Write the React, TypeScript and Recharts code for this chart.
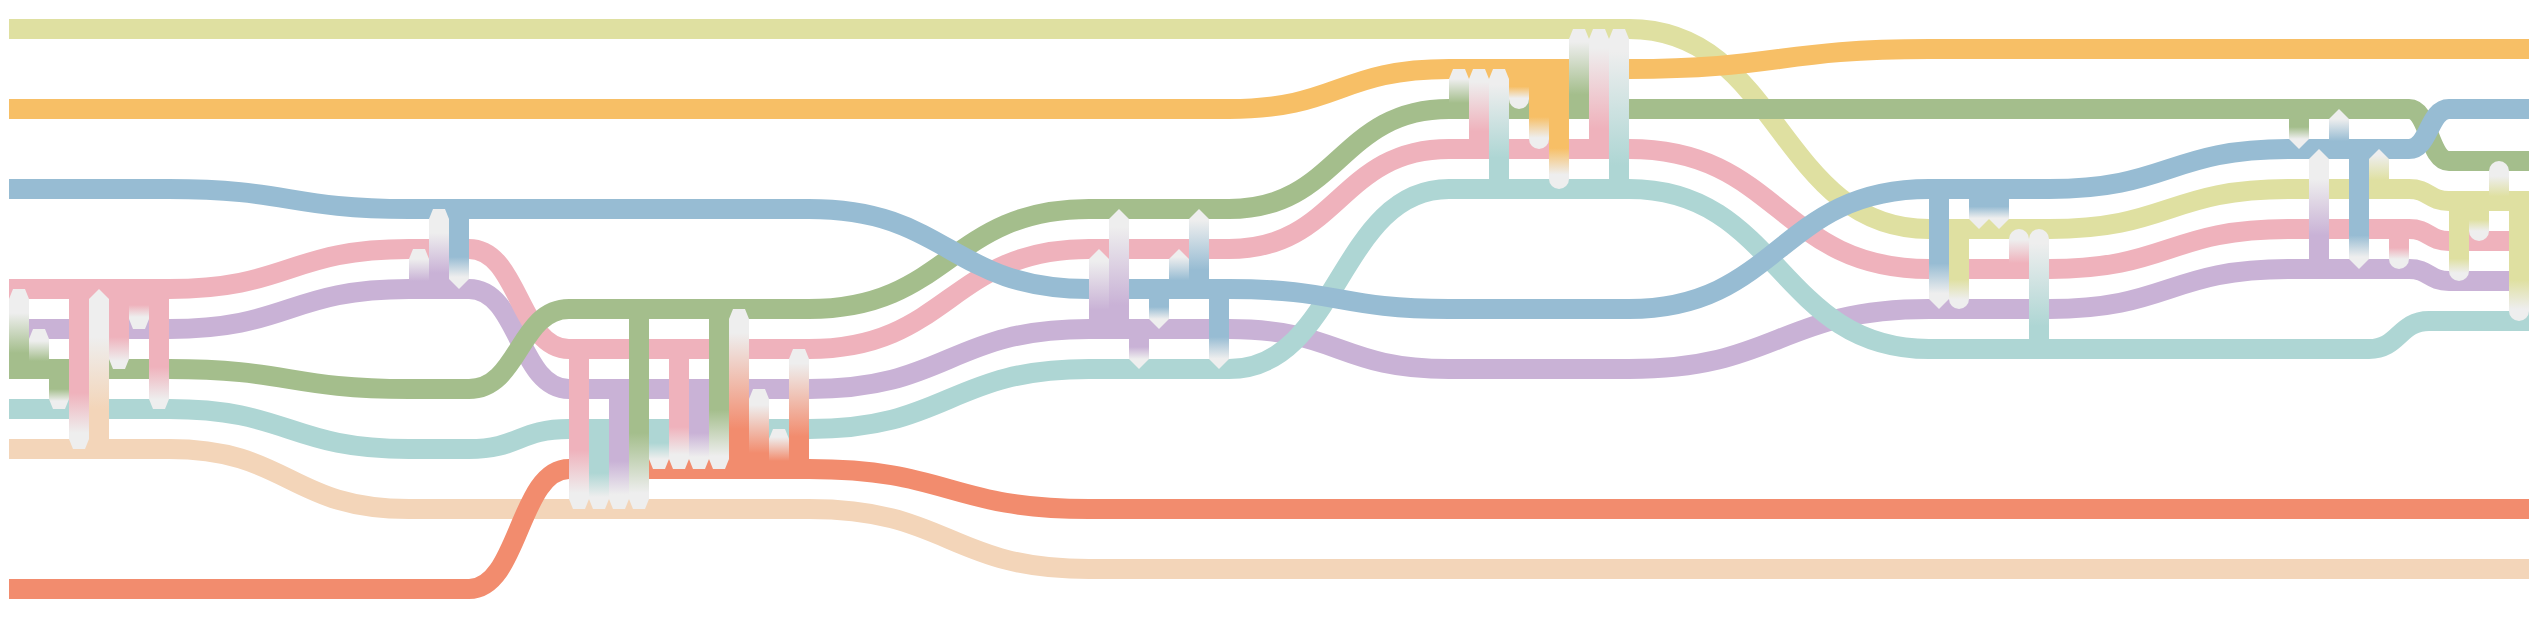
import { LineChart, Line, XAxis, YAxis, ReferenceArea } from 'recharts';

const W = 2532;
const H = 619;

const COLORS = {
  yellow: '#dfe0a1',
  orange: '#f7bf66',
  green: '#a4be8c',
  blue: '#97bcd3',
  pink: '#efb2bc',
  purple: '#c9b2d6',
  teal: '#aed6d4',
  peach: '#f3d5b9',
  red: '#f28c6e',
};
const TIP_GRAY = '#eeeeee';

type SeriesName = keyof typeof COLORS;
type Pt = [number, number]; // [step, track]

// storyline tracks: [step, level]
const yellowPath: Pt[] = [[0, 0], [81, 0], [96, 10], [102, 10], [114, 8], [120, 8], [122, 8.6], [126, 8.6]];
const orangePath: Pt[] = [[0, 4], [61, 4], [72, 2], [81, 2], [96, 1], [126, 1]];
const bluePath: Pt[] = [[0, 8], [8, 8], [20, 9], [40, 9], [54, 13], [61, 13], [72, 14], [81, 14], [96, 8], [102, 8], [114, 6], [120, 6], [122, 4], [126, 4]];
const pinkPath: Pt[] = [[0, 13], [8, 13], [20, 11], [23, 11], [28, 16], [40, 16], [54, 11], [61, 11], [72, 6], [81, 6], [96, 12], [102, 12], [114, 10], [120, 10], [122, 10.6], [126, 10.6]];
const purplePath: Pt[] = [[0, 15], [8, 15], [20, 13], [23, 13], [28, 18], [40, 18], [54, 15], [61, 15], [72, 17], [81, 17], [96, 14], [102, 14], [114, 12], [120, 12], [122, 12.6], [126, 12.6]];
const greenPath: Pt[] = [[0, 17], [8, 17], [20, 18], [23, 18], [28, 14], [40, 14], [54, 9], [61, 9], [72, 4], [120, 4], [122, 6.6], [126, 6.6]];
const tealPath: Pt[] = [[0, 19], [8, 19], [20, 21], [23, 21], [28, 20], [40, 20], [54, 17], [61, 17], [72, 8], [81, 8], [96, 16], [118, 16], [121, 14.6], [126, 14.6]];
const peachPath: Pt[] = [[0, 21], [8, 21], [20, 24], [40, 24], [54, 27], [126, 27]];
const redPath: Pt[] = [[0, 28], [23, 28], [28, 22], [40, 22], [54, 24], [126, 24]];

// draw order, bottom first
const SERIES: { name: SeriesName; path: Pt[] }[] = [
  { name: 'yellow', path: yellowPath },
  { name: 'peach', path: peachPath },
  { name: 'red', path: redPath },
  { name: 'purple', path: purplePath },
  { name: 'pink', path: pinkPath },
  { name: 'green', path: greenPath },
  { name: 'teal', path: tealPath },
  { name: 'blue', path: bluePath },
  { name: 'orange', path: orangePath },
];

type Tip = 'chamfer' | 'v' | 'round';
// [column, source series, source level, target level, tip, colour-until, grey-from]
type Conn = [number, SeriesName, number, number, Tip, number, number];

const cluster1: Conn[] = [
  [0, 'green', 17, 13, 'chamfer', 0.2, 0.7],
  [1, 'green', 17, 15, 'chamfer', 0.2, 0.7],
  [2, 'green', 17, 19, 'chamfer', 0.5, 0.8],
  [3, 'pink', 13, 21, 'chamfer', 0.65, 0.9],
  [4, 'peach', 21, 13, 'v', 0.25, 0.7],
  [5, 'pink', 13, 17, 'chamfer', 0.6, 0.9],
  [6, 'pink', 13, 15, 'chamfer', 0.4, 0.7],
  [7, 'pink', 13, 19, 'chamfer', 0.65, 0.92],
  [20, 'purple', 13, 11, 'chamfer', 0.2, 0.75],
  [21, 'purple', 13, 9, 'chamfer', 0.2, 0.7],
  [22, 'blue', 9, 13, 'v', 0.6, 0.85],
];
const cluster2: Conn[] = [
  [28, 'pink', 16, 24, 'chamfer', 0.63, 0.9],
  [29, 'teal', 20, 24, 'chamfer', 0.55, 0.85],
  [30, 'purple', 18, 24, 'chamfer', 0.6, 0.88],
  [31, 'green', 14, 24, 'chamfer', 0.62, 0.92],
  [32, 'teal', 20, 22, 'chamfer', 0.35, 0.75],
  [33, 'pink', 16, 22, 'chamfer', 0.65, 0.88],
  [34, 'purple', 18, 22, 'chamfer', 0.55, 0.85],
  [35, 'green', 14, 22, 'chamfer', 0.63, 0.92],
  [36, 'red', 22, 14, 'chamfer', 0.25, 0.85],
  [37, 'red', 22, 18, 'chamfer', 0.2, 0.8],
  [38, 'red', 22, 20, 'chamfer', 0.2, 0.8],
  [39, 'red', 22, 16, 'chamfer', 0.27, 0.88],
  [54, 'purple', 15, 11, 'v', 0.24, 0.85],
  [55, 'purple', 15, 9, 'v', 0.2, 0.85],
  [56, 'purple', 15, 17, 'v', 0.45, 0.75],
  [57, 'blue', 13, 15, 'v', 0.45, 0.75],
  [58, 'blue', 13, 11, 'v', 0.22, 0.8],
  [59, 'blue', 13, 9, 'v', 0.24, 0.86],
  [60, 'blue', 13, 17, 'v', 0.6, 0.87],
];
const cluster3: Conn[] = [
  [72, 'green', 4, 2, 'chamfer', 0.15, 0.75],
  [73, 'pink', 6, 2, 'chamfer', 0.22, 0.84],
  [74, 'teal', 8, 2, 'chamfer', 0.26, 0.87],
  [75, 'orange', 2, 4, 'round', 0.44, 0.73],
  [76, 'orange', 2, 6, 'round', 0.6, 0.86],
  [77, 'orange', 2, 8, 'round', 0.66, 0.88],
  [78, 'green', 4, 0, 'chamfer', 0.18, 0.84],
  [79, 'pink', 6, 0, 'chamfer', 0.17, 0.84],
  [80, 'teal', 8, 0, 'chamfer', 0.15, 0.86],
];
const cluster4: Conn[] = [
  [96, 'blue', 8, 14, 'v', 0.62, 0.87],
  [97, 'yellow', 10, 14, 'round', 0.63, 0.88],
  [98, 'blue', 8, 10, 'v', 0.44, 0.73],
  [99, 'blue', 8, 10, 'v', 0.44, 0.73],
  [100, 'pink', 12, 10, 'round', 0.15, 0.73],
  [101, 'teal', 16, 10, 'round', 0.19, 0.88],
  [114, 'green', 4, 6, 'v', 0.45, 0.75],
  [115, 'purple', 12, 6, 'v', 0.28, 0.75],
  [116, 'blue', 6, 4, 'v', 0.2, 0.75],
  [117, 'blue', 6, 12, 'v', 0.72, 0.9],
  [118, 'yellow', 8, 6, 'v', 0.22, 0.85],
  [119, 'pink', 10, 12, 'round', 0.47, 0.75],
  [122, 'yellow', 8.6, 12.6, 'round', 0.72, 0.9],
  [123, 'yellow', 8.6, 10.6, 'round', 0.47, 0.75],
  [124, 'yellow', 8.6, 6.6, 'round', 0.12, 0.62],
  [125, 'yellow', 8.6, 14.6, 'round', 0.66, 0.9],
];
const connectors: Conn[] = [...cluster1, ...cluster2, ...cluster3, ...cluster4];

function ConnectorShape(props: any) {
  const { x, y, width, height, conn, id } = props;
  if (x == null || y == null) return null;
  const [, series, from, to, tip, a, b] = conn as Conn;
  const tipTop = to < from;
  const x0 = x;
  const x1 = x + width;
  const xc = x + width / 2;
  const r = width / 2;
  const top = y;
  const bottom = y + height;
  const s = 10;
  let d: string;
  if (tipTop) {
    const sh = top + s;
    let head: string;
    if (tip === 'v') head = `L${xc},${top} L${x1},${sh}`;
    else if (tip === 'chamfer') head = `L${x0 + 4},${top} L${x1 - 4},${top} L${x1},${sh}`;
    else head = `A${r},${r} 0 0 1 ${x1},${sh}`;
    d = `M${x0},${bottom} L${x0},${sh} ${head} L${x1},${bottom} Z`;
  } else {
    const sh = bottom - s;
    let head: string;
    if (tip === 'v') head = `L${xc},${bottom} L${x0},${sh}`;
    else if (tip === 'chamfer') head = `L${x1 - 4},${bottom} L${x0 + 4},${bottom} L${x0},${sh}`;
    else head = `A${r},${r} 0 0 1 ${x0},${sh}`;
    d = `M${x0},${top} L${x1},${top} L${x1},${sh} ${head} Z`;
  }
  const srcY = tipTop ? bottom : top;
  const tipY = tipTop ? top : bottom;
  return (
    <g>
      <defs>
        <linearGradient id={id} gradientUnits="userSpaceOnUse" x1={0} y1={srcY} x2={0} y2={tipY}>
          <stop offset={a} stopColor={COLORS[series as SeriesName]} />
          <stop offset={b} stopColor={TIP_GRAY} />
        </linearGradient>
      </defs>
      <path d={d} fill={`url(#${id})`} stroke="none" />
    </g>
  );
}

export default function App() {
  return (
    <div style={{ position: 'absolute', left: 0, top: 0, width: W, height: H, background: '#fff' }}>
      <LineChart width={W} height={H} margin={{ top: 0, right: 0, bottom: 0, left: 0 }}>
        <XAxis type="number" dataKey="g" domain={[-0.45, 126.15]} hide allowDataOverflow />
        <YAxis type="number" dataKey="k" domain={[-1.45, 29.5]} reversed hide allowDataOverflow />
        {SERIES.map((s) => (
          <Line
            key={s.name}
            data={s.path.map(([g, k]) => ({ g, k }))}
            dataKey="k"
            type="bumpX"
            stroke={COLORS[s.name]}
            strokeWidth={20}
            strokeLinecap="butt"
            dot={false}
            activeDot={false}
            isAnimationActive={false}
          />
        ))}
        {connectors.map((c, i) => (
          <ReferenceArea
            key={`c${i}`}
            x1={c[0]}
            x2={c[0] + 1}
            y1={c[2]}
            y2={c[3]}
            ifOverflow="visible"
            zIndex={1500}
            shape={(p: any) => <ConnectorShape {...p} conn={c} id={`cg${i}`} />}
          />
        ))}
      </LineChart>
    </div>
  );
}
